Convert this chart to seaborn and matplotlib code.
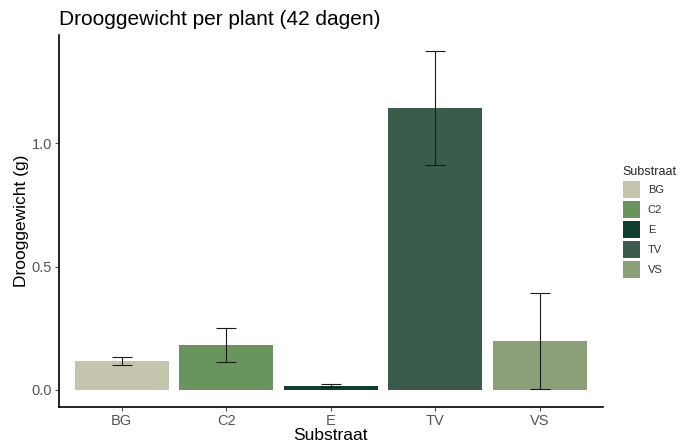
import pandas as pd
import numpy as np
import matplotlib
matplotlib.use('Agg')
import matplotlib.pyplot as plt
from matplotlib.patches import Patch
import seaborn as sns

substraat = ['BG', 'C2', 'E', 'TV', 'VS']
droog = [0.117, 0.183, 0.017, 1.144, 0.198]
fout = [0.017, 0.068, 0.006, 0.231, 0.195]
kleuren = ['#C5C4AD', '#6A945E', '#103F2E', '#3B5B4B', '#8B9F78']

df = pd.DataFrame({'Substraat': substraat, 'droog': droog, 'fout': fout})

sns.set_theme(style='white')
plt.rcParams['font.family'] = ['Liberation Sans', 'DejaVu Sans']

fig = plt.figure(figsize=(6.89, 4.48), dpi=100)
ax = fig.add_axes([0.0856, 0.0915, 0.789, 0.8305])

sns.barplot(data=df, x='Substraat', y='droog', hue='Substraat',
            palette=kleuren, dodge=False, width=0.9, errorbar=None,
            legend=False, ax=ax, saturation=1, linewidth=0)

# foutbalken
ax.errorbar(np.arange(len(substraat)), df['droog'], yerr=df['fout'],
            fmt='none', ecolor='#1a1a1a', elinewidth=0.8, capsize=7,
            capthick=0.8)

ax.set_xlim(-0.6, 4.6)
ax.set_ylim(-0.069, 1.44)
ax.set_yticks([0.0, 0.5, 1.0])
ax.set_yticklabels(['0.0', '0.5', '1.0'])

for s in ['top', 'right']:
    ax.spines[s].set_visible(False)
for s in ['left', 'bottom']:
    ax.spines[s].set_color('black')
    ax.spines[s].set_linewidth(1.2)

ax.tick_params(axis='both', which='both', length=3, width=0.8,
               color='#4D4D4D', labelcolor='#555555', labelsize=10.5,
               left=True, bottom=True, pad=2)

ax.set_xlabel('Substraat', fontsize=12.5, color='black', labelpad=0)
ax.set_ylabel('Drooggewicht (g)', fontsize=12.5, color='black', labelpad=2)
ax.set_title('Drooggewicht per plant (42 dagen)', fontsize=15, loc='left',
             color='black', pad=7, x=0.0)

handles = [Patch(facecolor=c, edgecolor='none', label=l)
           for l, c in zip(substraat, kleuren)]
leg = fig.legend(handles=handles, title='Substraat', loc='upper left',
                 bbox_to_anchor=(0.904, 0.630), frameon=False, fontsize=8,
                 title_fontsize=9, handlelength=1.53, handleheight=1.98,
                 labelspacing=0.27, handletextpad=0.7, borderaxespad=0,
                 borderpad=0)
leg._legend_box.align = 'left'
for t in leg.get_texts():
    t.set_color('#333333')

fig.savefig('out.png', dpi=100)
